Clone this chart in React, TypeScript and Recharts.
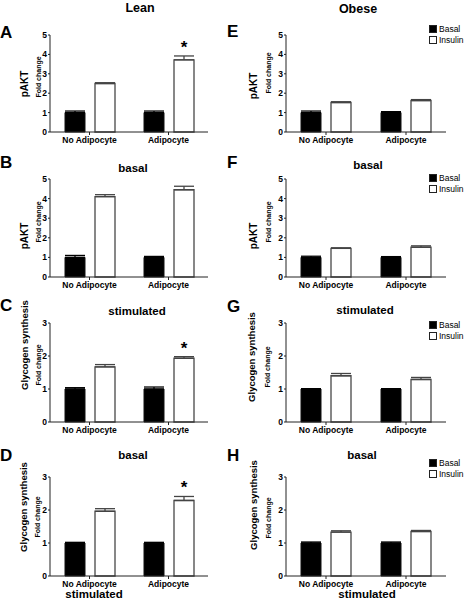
import React from 'react';
import { BarChart, Bar, XAxis, YAxis, ErrorBar, LabelList, Legend } from 'recharts';

const FONT = '"Liberation Sans", Arial, Helvetica, sans-serif';

const categories = ['No Adipocyte', 'Adipocyte'];
const pAktTicks = [0, 1, 2, 3, 4, 5];
const glycogenTicks = [0, 1, 2, 3];

// Panel A: Lean pAKT (stimulated)
const aBasal = [1.0, 1.0];
const aBasalErr = [0.08, 0.08];
const aInsulin = [2.5, 3.72];
const aInsulinErr = [0.04, 0.2];
const aSig = [false, true];

// Panel B: Lean pAKT basal
const bBasal = [1.0, 1.0];
const bBasalErr = [0.1, 0.05];
const bInsulin = [4.1, 4.45];
const bInsulinErr = [0.1, 0.18];
const bSig = [false, false];

// Panel C: Lean glycogen synthesis stimulated
const cBasal = [1.0, 1.0];
const cBasalErr = [0.04, 0.06];
const cInsulin = [1.67, 1.93];
const cInsulinErr = [0.07, 0.05];
const cSig = [false, true];

// Panel D: Lean glycogen synthesis basal
const dBasal = [1.0, 1.0];
const dBasalErr = [0.02, 0.02];
const dInsulin = [1.96, 2.29];
const dInsulinErr = [0.08, 0.12];
const dSig = [false, true];

// Panel E: Obese pAKT
const eBasal = [1.0, 1.0];
const eBasalErr = [0.08, 0.05];
const eInsulin = [1.52, 1.62];
const eInsulinErr = [0.04, 0.05];
const eSig = [false, false];

// Panel F: Obese pAKT basal
const fBasal = [1.0, 1.0];
const fBasalErr = [0.06, 0.04];
const fInsulin = [1.46, 1.52];
const fInsulinErr = [0.03, 0.07];
const fSig = [false, false];

// Panel G: Obese glycogen synthesis stimulated
const gBasal = [1.0, 1.0];
const gBasalErr = [0.01, 0.01];
const gInsulin = [1.4, 1.29];
const gInsulinErr = [0.07, 0.06];
const gSig = [false, false];

// Panel H: Obese glycogen synthesis basal
const hBasal = [1.0, 1.0];
const hBasalErr = [0.03, 0.03];
const hInsulin = [1.33, 1.35];
const hInsulinErr = [0.04, 0.03];
const hSig = [false, false];

const renderStar = (props: any) => {
  const { x, y, width, height, value } = props;
  if (!value || typeof value !== 'string') return null;
  const [v, e] = value.split('|').map(Number);
  const pxPerUnit = Number(height) / v;
  const capY = Number(y) - e * pxPerUnit;
  return (
    <text
      x={Number(x) + Number(width) / 2}
      y={capY - 3}
      textAnchor="middle"
      fontSize={17}
      fontWeight="bold"
      fontFamily={FONT}
      fill="#000"
    >
      *
    </text>
  );
};

const renderLegend = (props: any) => {
  const payload = props.payload || [];
  const order = ['Basal', 'Insulin'];
  const items = [...payload].sort((a: any, b: any) => order.indexOf(a.value) - order.indexOf(b.value));
  return (
    <div style={{ fontFamily: FONT, color: '#000' }}>
      {items.map((e: any) => (
        <div key={e.value} style={{ display: 'flex', alignItems: 'center', height: 11.5, color: '#000' }}>
          <span
            style={{
              display: 'inline-block',
              width: 8,
              height: 8,
              boxSizing: 'border-box',
              background: e.value === 'Basal' ? '#000' : '#fff',
              border: '1px solid #222',
              marginRight: 2,
            }}
          />
          <span style={{ fontSize: 8.5, color: '#000', lineHeight: '10px' }}>{e.value}</span>
        </div>
      ))}
    </div>
  );
};

type PanelProps = {
  left: number;
  top: number;
  width: number;
  height: number;
  marginTop: number;
  marginRight: number;
  yAxisWidth: number;
  yMax: number;
  ticks: number[];
  basal: number[];
  basalErr: number[];
  insulin: number[];
  insulinErr: number[];
  sig: boolean[];
  legendLeft?: number;
  legendTop?: number;
};

function Panel(p: PanelProps) {
  const data = categories.map((name, i) => ({
    name,
    basal: p.basal[i],
    basalErr: [0, p.basalErr[i]],
    insulin: p.insulin[i],
    insulinErr: [0, p.insulinErr[i]],
    star: p.sig[i] ? `${p.insulin[i]}|${p.insulinErr[i]}` : '',
  }));
  const tickStyle = { fill: '#000', fontSize: 8.5, fontWeight: 'bold', fontFamily: FONT };
  return (
    <div style={{ position: 'absolute', left: p.left, top: p.top }}>
      <BarChart
        width={p.width}
        height={p.height}
        data={data}
        margin={{ top: p.marginTop, right: p.marginRight, bottom: 0, left: 0 }}
        barGap={10}
        barSize={20}
      >
        <XAxis
          dataKey="name"
          height={18}
          tickSize={3}
          tickMargin={1.5}
          interval={0}
          stroke="#222"
          tick={tickStyle}
        />
        <YAxis
          width={p.yAxisWidth}
          domain={[0, p.yMax]}
          ticks={p.ticks}
          tickSize={2}
          tickMargin={1}
          stroke="#222"
          tick={tickStyle}
        />
        <Bar dataKey="basal" name="Basal" fill="#000" stroke="#111" strokeWidth={1} isAnimationActive={false}>
          <ErrorBar dataKey="basalErr" width={10} stroke="#000" strokeWidth={1.3} direction="y" isAnimationActive={false} />
        </Bar>
        <Bar dataKey="insulin" name="Insulin" fill="#fff" stroke="#555" strokeWidth={1.4} isAnimationActive={false}>
          <ErrorBar dataKey="insulinErr" width={10} stroke="#444" strokeWidth={1.3} direction="y" isAnimationActive={false} />
          <LabelList dataKey="star" content={renderStar} />
        </Bar>
        {p.legendTop !== undefined && (
          <Legend
            layout="vertical"
            align="center"
            verticalAlign="middle"
            wrapperStyle={{ left: p.legendLeft, top: p.legendTop, width: 40, color: '#000' }}
            content={renderLegend}
          />
        )}
      </BarChart>
    </div>
  );
}

const L = { left: 0, width: 230, marginRight: 22, yAxisWidth: 50 };
const R = { left: 235, width: 234, marginRight: 23, yAxisWidth: 51 };

function Rot({ x, y, size, children, weight = 'bold' }: any) {
  return (
    <text
      transform={`translate(${x},${y}) rotate(-90)`}
      textAnchor="middle"
      dominantBaseline="central"
      fontSize={size}
      fontWeight={weight}
      fontFamily={FONT}
      fill="#000"
    >
      {children}
    </text>
  );
}

function T({ x, y, size, children, anchor = 'middle' }: any) {
  return (
    <text x={x} y={y} textAnchor={anchor} dominantBaseline="central" fontSize={size} fontWeight="bold" fontFamily={FONT} fill="#000">
      {children}
    </text>
  );
}

export default function App() {
  return (
    <div style={{ position: 'absolute', left: 0, top: 0, width: 469, height: 600, background: '#fff', overflow: 'hidden' }}>
      <Panel {...L} top={0} height={150} marginTop={35} yMax={5} ticks={pAktTicks}
        basal={aBasal} basalErr={aBasalErr} insulin={aInsulin} insulinErr={aInsulinErr} sig={aSig} />
      <Panel {...L} top={145} height={150} marginTop={34} yMax={5} ticks={pAktTicks}
        basal={bBasal} basalErr={bBasalErr} insulin={bInsulin} insulinErr={bInsulinErr} sig={bSig} />
      <Panel {...L} top={290} height={150} marginTop={33} yMax={3} ticks={glycogenTicks}
        basal={cBasal} basalErr={cBasalErr} insulin={cInsulin} insulinErr={cInsulinErr} sig={cSig} />
      <Panel {...L} top={440} height={154} marginTop={37} yMax={3} ticks={glycogenTicks}
        basal={dBasal} basalErr={dBasalErr} insulin={dInsulin} insulinErr={dInsulinErr} sig={dSig} />

      <Panel {...R} top={0} height={150} marginTop={35} yMax={5} ticks={pAktTicks}
        basal={eBasal} basalErr={eBasalErr} insulin={eInsulin} insulinErr={eInsulinErr} sig={eSig}
        legendLeft={194} legendTop={23} />
      <Panel {...R} top={145} height={150} marginTop={34} yMax={5} ticks={pAktTicks}
        basal={fBasal} basalErr={fBasalErr} insulin={fInsulin} insulinErr={fInsulinErr} sig={fSig}
        legendLeft={194} legendTop={27} />
      <Panel {...R} top={290} height={150} marginTop={33} yMax={3} ticks={glycogenTicks}
        basal={gBasal} basalErr={gBasalErr} insulin={gInsulin} insulinErr={gInsulinErr} sig={gSig}
        legendLeft={194} legendTop={29} />
      <Panel {...R} top={440} height={154} marginTop={37} yMax={3} ticks={glycogenTicks}
        basal={hBasal} basalErr={hBasalErr} insulin={hInsulin} insulinErr={hInsulinErr} sig={hSig}
        legendLeft={194} legendTop={17} />

      <svg width={469} height={600} style={{ position: 'absolute', left: 0, top: 0, pointerEvents: 'none' }}>
        <T x={140} y={8} size={12.5}>Lean</T>
        <T x={358} y={9} size={12.5}>Obese</T>

        <T x={0} y={32} size={17} anchor="start">A</T>
        <T x={0} y={162} size={17} anchor="start">B</T>
        <T x={0} y={305} size={17} anchor="start">C</T>
        <T x={0} y={455} size={17} anchor="start">D</T>
        <T x={227} y={31} size={17} anchor="start">E</T>
        <T x={227} y={162} size={17} anchor="start">F</T>
        <T x={227} y={306} size={17} anchor="start">G</T>
        <T x={227} y={455} size={17} anchor="start">H</T>

        <T x={133} y={168} size={11.5}>basal</T>
        <T x={368} y={165} size={11.5}>basal</T>
        <T x={137} y={311} size={11.5}>stimulated</T>
        <T x={365} y={310} size={11.5}>stimulated</T>
        <T x={133} y={455} size={11.5}>basal</T>
        <T x={362} y={455} size={11.5}>basal</T>

        <Rot x={24} y={84} size={10}>pAKT</Rot>
        <Rot x={38.5} y={77} size={7}>Fold change</Rot>
        <Rot x={24} y={236} size={10}>pAKT</Rot>
        <Rot x={38.5} y={222} size={7}>Fold change</Rot>
        <Rot x={24} y={345} size={9.5}>Glycogen synthesis</Rot>
        <Rot x={38.5} y={365} size={7}>Fold change</Rot>
        <Rot x={23} y={507} size={9.5}>Glycogen synthesis</Rot>
        <Rot x={37} y={517} size={7}>Fold change</Rot>

        <Rot x={253} y={86} size={10}>pAKT</Rot>
        <Rot x={268} y={73} size={7}>Fold change</Rot>
        <Rot x={253} y={236} size={10}>pAKT</Rot>
        <Rot x={268} y={222} size={7}>Fold change</Rot>
        <Rot x={251} y={357} size={9.5}>Glycogen synthesis</Rot>
        <Rot x={267} y={367} size={7}>Fold change</Rot>
        <Rot x={253} y={505} size={9.5}>Glycogen synthesis</Rot>
        <Rot x={268} y={518} size={7}>Fold change</Rot>

        <T x={94} y={594} size={11.5}>stimulated</T>
        <T x={367} y={594} size={11.5}>stimulated</T>
      </svg>
    </div>
  );
}
